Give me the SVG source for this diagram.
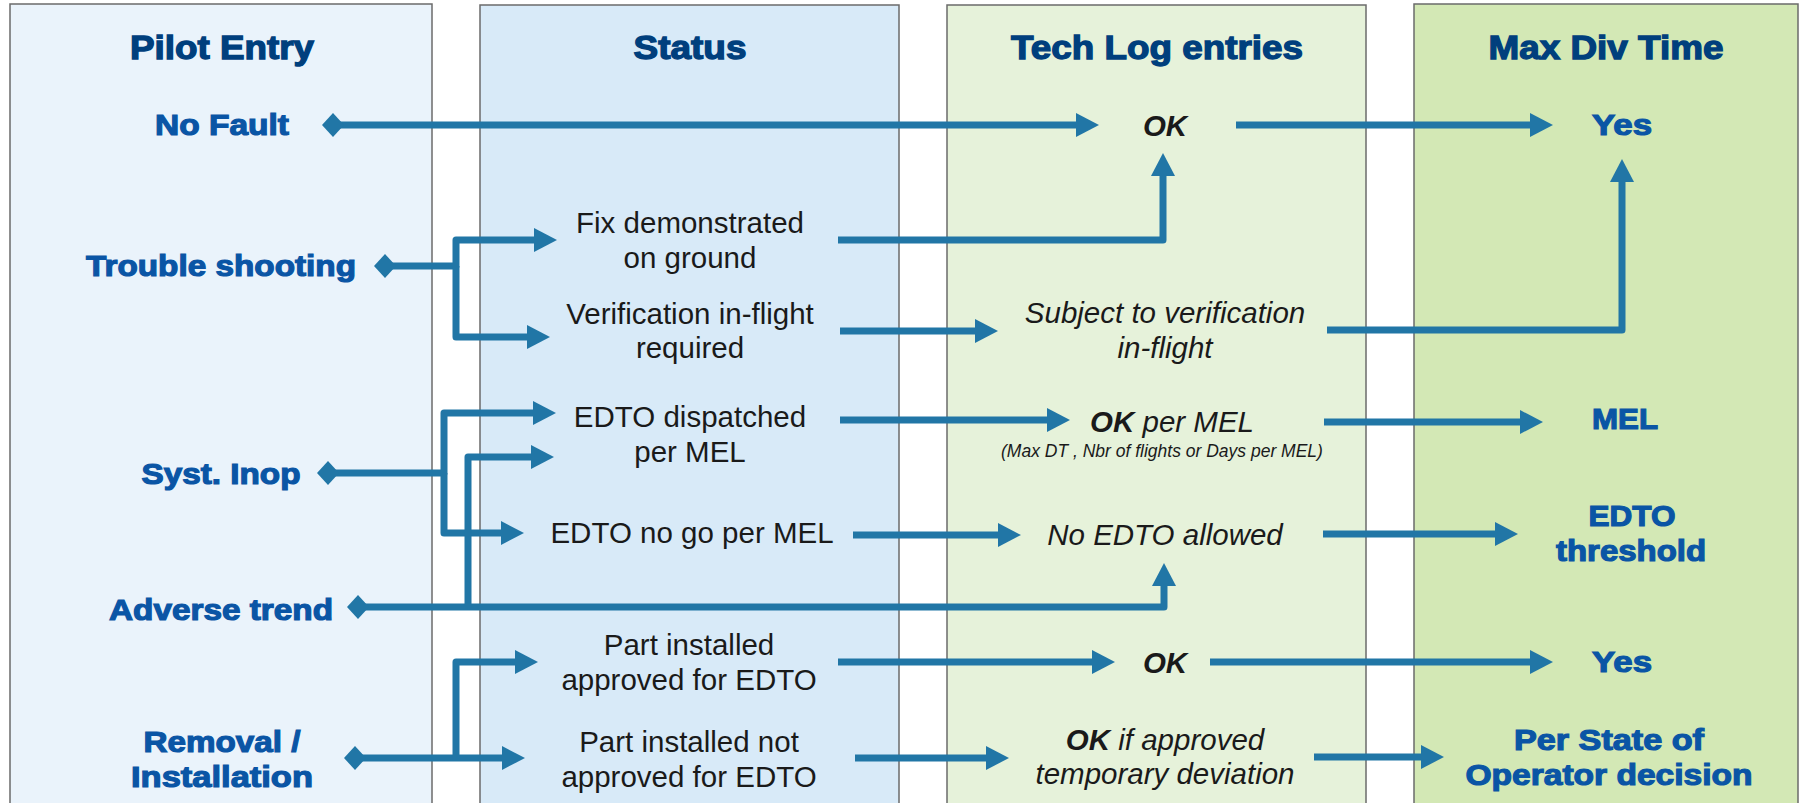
<svg xmlns="http://www.w3.org/2000/svg" width="1801" height="803" viewBox="0 0 1801 803">
<defs>
<style>
.col{stroke:#6b6b6b;stroke-width:1.5}
.hdr{font-family:"Liberation Sans",Arial,sans-serif;font-weight:bold;font-size:33px;fill:#003f7d;stroke:#003f7d;stroke-width:1.3;text-anchor:middle}
.lbl{font-family:"Liberation Sans",Arial,sans-serif;font-weight:bold;font-size:30px;fill:#0a55a5;stroke:#0a55a5;stroke-width:1.2;text-anchor:middle}
.st{font-family:"Liberation Sans",Arial,sans-serif;font-size:29.5px;fill:#1a1a1a;text-anchor:middle}
.tl{font-family:"Liberation Sans",Arial,sans-serif;font-style:italic;font-size:29.5px;fill:#1a1a1a;text-anchor:middle}
.b{font-weight:bold}
.sm{font-family:"Liberation Sans",Arial,sans-serif;font-style:italic;font-size:17.5px;fill:#1a1a1a;text-anchor:middle}
.cn{fill:none;stroke:#2176a6;stroke-width:7;stroke-linejoin:round}
.a{marker-end:url(#arr)}
.d{marker-start:url(#dia)}
</style>
<marker id="arr" markerUnits="userSpaceOnUse" markerWidth="24" markerHeight="24" refX="0" refY="12" orient="auto" viewBox="0 0 24 24"><path d="M0,0 L23,12 L0,24 Z" fill="#2176a6"/></marker>
<marker id="dia" markerUnits="userSpaceOnUse" markerWidth="24" markerHeight="24" refX="12" refY="12" orient="auto" viewBox="0 0 24 24"><path d="M1,12 L12,0 L23,12 L12,24 Z" fill="#2176a6"/></marker>
</defs>
<rect width="1801" height="803" fill="#ffffff"/>
<g id="col-pilot"><rect class="col" x="10" y="4" width="422" height="820" fill="#eaf3fb"/><text class="hdr" x="222" y="59" textLength="184" lengthAdjust="spacingAndGlyphs">Pilot Entry</text></g>
<g id="col-status"><rect class="col" x="480" y="5" width="419" height="820" fill="#d8eaf8"/><text class="hdr" x="690" y="59" textLength="113" lengthAdjust="spacingAndGlyphs">Status</text></g>
<g id="col-techlog"><rect class="col" x="947" y="5" width="419" height="820" fill="#e6f2da"/><text class="hdr" x="1157" y="59" textLength="292" lengthAdjust="spacingAndGlyphs">Tech Log entries</text></g>
<g id="col-maxdiv"><rect class="col" x="1414" y="4" width="384" height="820" fill="#d3e8b5"/><text class="hdr" x="1606" y="59" textLength="235" lengthAdjust="spacingAndGlyphs">Max Div Time</text></g>

<g id="connectors">
<path class="cn d a" d="M333,125 H1076"/>
<path class="cn a" d="M1236,125 H1530"/>
<path class="cn d a" d="M385,266 H456 V240 H534"/>
<path class="cn a" d="M456,266 V337 H527"/>
<path class="cn a" d="M838,240 H1163 V176"/>
<path class="cn a" d="M840,331 H975"/>
<path class="cn a" d="M1327,330 H1622 V182"/>
<path class="cn d a" d="M328,473 H444 V413 H533"/>
<path class="cn a" d="M444,473 V533 H501"/>
<path class="cn d a" d="M358,607 H1164 V586"/>
<path class="cn a" d="M468,607 V457 H531"/>
<path class="cn a" d="M840,420 H1047"/>
<path class="cn a" d="M1324,422 H1520"/>
<path class="cn a" d="M853,535 H998"/>
<path class="cn a" d="M1323,534 H1495"/>
<path class="cn d a" d="M355,758 H502"/>
<path class="cn a" d="M456,758 V662 H515"/>
<path class="cn a" d="M838,662 H1092"/>
<path class="cn a" d="M1210,662 H1530"/>
<path class="cn a" d="M855,758 H986"/>
<path class="cn a" d="M1314,757 H1421"/>
</g>

<g id="n-nofault"><text class="lbl" x="222" y="135" textLength="134" lengthAdjust="spacingAndGlyphs">No Fault</text></g>
<g id="n-trouble"><text class="lbl" x="221" y="276" textLength="270" lengthAdjust="spacingAndGlyphs">Trouble shooting</text></g>
<g id="n-systinop"><text class="lbl" x="221" y="484" textLength="159" lengthAdjust="spacingAndGlyphs">Syst. Inop</text></g>
<g id="n-adverse"><text class="lbl" x="221" y="620" textLength="224" lengthAdjust="spacingAndGlyphs">Adverse trend</text></g>
<g id="n-removal"><text class="lbl" x="222" y="752" textLength="157" lengthAdjust="spacingAndGlyphs">Removal /</text><text class="lbl" x="222" y="787" textLength="182" lengthAdjust="spacingAndGlyphs">Installation</text></g>

<g id="n-fix"><text class="st" x="690" y="233">Fix demonstrated</text><text class="st" x="690" y="268">on ground</text></g>
<g id="n-verif"><text class="st" x="690" y="324">Verification in-flight</text><text class="st" x="690" y="358">required</text></g>
<g id="n-edtodisp"><text class="st" x="690" y="427">EDTO dispatched</text><text class="st" x="690" y="462">per MEL</text></g>
<g id="n-edtonogo"><text class="st" x="692" y="543">EDTO no go per MEL</text></g>
<g id="n-partappr"><text class="st" x="689" y="655">Part installed</text><text class="st" x="689" y="690">approved for EDTO</text></g>
<g id="n-partnot"><text class="st" x="689" y="752">Part installed not</text><text class="st" x="689" y="787">approved for EDTO</text></g>

<g id="n-ok1"><text class="tl b" x="1165" y="136">OK</text></g>
<g id="n-subject"><text class="tl" x="1165" y="323">Subject to verification</text><text class="tl" x="1165" y="358">in-flight</text></g>
<g id="n-okmel"><text class="tl" x="1172" y="432"><tspan class="b">OK</tspan> per MEL</text><text class="sm" x="1162" y="457">(Max DT , Nbr of flights or Days per MEL)</text></g>
<g id="n-noedto"><text class="tl" x="1165" y="545">No EDTO allowed</text></g>
<g id="n-ok2"><text class="tl b" x="1165" y="673">OK</text></g>
<g id="n-okif"><text class="tl" x="1165" y="750"><tspan class="b">OK</tspan> if approved</text><text class="tl" x="1165" y="784">temporary deviation</text></g>

<g id="n-yes1"><text class="lbl" x="1622" y="135" textLength="60" lengthAdjust="spacingAndGlyphs">Yes</text></g>
<g id="n-mel"><text class="lbl" x="1625" y="429" textLength="66" lengthAdjust="spacingAndGlyphs">MEL</text></g>
<g id="n-threshold"><text class="lbl" x="1632" y="526" textLength="87" lengthAdjust="spacingAndGlyphs">EDTO</text><text class="lbl" x="1631" y="561" textLength="150" lengthAdjust="spacingAndGlyphs">threshold</text></g>
<g id="n-yes2"><text class="lbl" x="1622" y="672" textLength="60" lengthAdjust="spacingAndGlyphs">Yes</text></g>
<g id="n-perstate"><text class="lbl" x="1609" y="750" textLength="190" lengthAdjust="spacingAndGlyphs">Per State of</text><text class="lbl" x="1609" y="785" textLength="287" lengthAdjust="spacingAndGlyphs">Operator decision</text></g>
</svg>
